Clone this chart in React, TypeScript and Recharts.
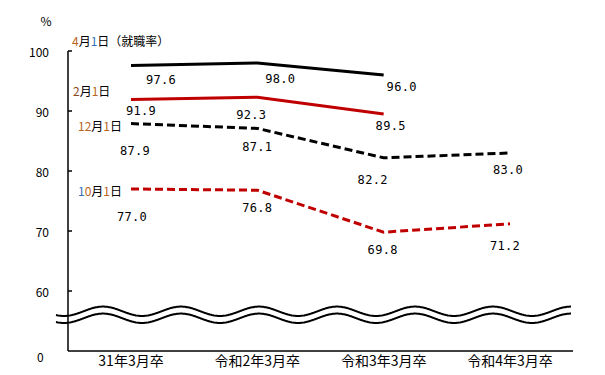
import React from 'react';
import { LineChart, Line, XAxis, YAxis, ReferenceArea, LabelList } from 'recharts';

const categories = ['31年3月卒', '令和2年3月卒', '令和3年3月卒', '令和4年3月卒'];
const apr = [97.6, 98.0, 96.0, null];
const feb = [91.9, 92.3, 89.5, null];
const dec = [87.9, 87.1, 82.2, 83.0];
const oct = [77.0, 76.8, 69.8, 71.2];
const yTicks = [50, 60, 70, 80, 90, 100];

const data = categories.map((name, i) => ({ name, apr: apr[i], feb: feb[i], dec: dec[i], oct: oct[i] }));

const FONT = '"Noto Sans CJK JP", "Noto Sans", sans-serif';
const MONO = '"DejaVu Sans Mono", monospace';

// label offsets from each point (dx, dy)
const offsets: Record<string, [number, number][]> = {
  apr: [[30, 15], [23, 16], [18, 12]],
  feb: [[10, 11], [-6, 18], [7, 12]],
  dec: [[4, 27], [0, 19], [-11, 22], [-2, 17]],
  oct: [[1, 28], [0, 18], [-1, 18], [-5, 22]],
};

// series name labels: text parts with colors, left x, offset y from first point
const names: Record<string, { parts: [string, string][]; x: number; dy: number }> = {
  apr: { parts: [['4', '#b8651e'], ['月', '#000'], ['1', '#2f6fb5'], ['日（就職率）', '#000']], x: 72, dy: -25 },
  feb: { parts: [['2', '#8a4a18'], ['月', '#000'], ['1', '#b8651e'], ['日', '#000']], x: 73, dy: -10 },
  dec: { parts: [['12', '#b8651e'], ['月', '#000'], ['1', '#b8651e'], ['日', '#000']], x: 78, dy: 1 },
  oct: { parts: [['1', '#2f6fb5'], ['0', '#b8651e'], ['月', '#000'], ['1', '#b8651e'], ['日', '#000']], x: 78, dy: 1 },
};

const makeLabel = (key: string) => (props: any) => {
  const { x, y, value, index } = props;
  if (value == null) return null;
  const [dx, dy] = offsets[key][index] || [0, 15];
  const nm = names[key];
  return (
    <g>
      <text x={x + dx} y={y + dy} textAnchor="middle" dominantBaseline="central" fontFamily={MONO} fontSize={12} letterSpacing={0.3} fill="#000">
        {Number(value).toFixed(1)}
      </text>
      {index === 0 && (
        <text x={nm.x} y={y + nm.dy} dominantBaseline="central" fontFamily={FONT} fontSize={12}>
          {nm.parts.map(([t, c], i) => (
            <tspan key={i} fill={c}>{t}</tspan>
          ))}
        </text>
      )}
    </g>
  );
};

const YTick = (props: any) => {
  const { x, y, payload } = props;
  const ax = x + 19;
  const v = payload.value;
  if (v === 50) {
    return (
      <text x={x - 12} y={y + 5} textAnchor="start" dominantBaseline="central" fontFamily={FONT} fontSize={12} fill="#000">0</text>
    );
  }
  return (
    <g>
      <text x={x} y={y} textAnchor="end" dominantBaseline="central" fontFamily={FONT} fontSize={12} fill="#000">{v}</text>
      <line x1={ax} x2={ax + 4} y1={y} y2={y} stroke="#000" strokeWidth={1.5} />
      {v === 100 && (
        <text x={x - 3} y={y - 31} textAnchor="middle" dominantBaseline="central" fontFamily={FONT} fontSize={12} fill="#000">%</text>
      )}
    </g>
  );
};

// axis break mark (double wavy band)
const Wave = (props: any) => {
  const { x, y } = props;
  const x0 = x - 75;
  const x1 = 571;
  const mid = y + 5.9;
  const amp = 4.7;
  const period = 78;
  const peak = x - 28;
  const up: string[] = [];
  const low: string[] = [];
  for (let px = x0; px <= x1; px += 1) {
    const yy = mid - amp * Math.cos((2 * Math.PI * (px - peak)) / period);
    up.push(`${px},${yy.toFixed(2)}`);
    low.push(`${px},${(yy + 7).toFixed(2)}`);
  }
  const band = `M${up.join(' L')} L${low.slice().reverse().join(' L')} Z`;
  return (
    <g>
      <path d={band} fill="#fff" stroke="none" />
      <path d={`M${up.join(' L')}`} fill="none" stroke="#000" strokeWidth={2} />
      <path d={`M${low.join(' L')}`} fill="none" stroke="#000" strokeWidth={2} />
    </g>
  );
};

export default function App() {
  return (
    <div style={{ position: 'absolute', left: 0, top: 0, width: 605, height: 375, background: '#fff' }}>
      <LineChart width={605} height={375} data={data} margin={{ top: 51, right: 32, bottom: 0, left: 8 }}>
        <XAxis
          dataKey="name"
          height={24}
          tickSize={0}
          tickMargin={5}
          padding={{ left: 63, right: 63 }}
          axisLine={{ stroke: '#000', strokeWidth: 1.5 }}
          tick={{ fill: '#000', fontFamily: FONT, fontSize: 14 }}
          interval={0}
        />
        <YAxis
          width={60}
          type="number"
          domain={[50, 100]}
          ticks={yTicks}
          allowDataOverflow
          tickSize={0}
          tickMargin={19}
          tickLine={false}
          axisLine={{ stroke: '#000', strokeWidth: 1.5 }}
          tick={<YTick />}
        />
        <ReferenceArea y1={54.4} y2={57.6} ifOverflow="visible" shape={<Wave />} />
        <Line dataKey="apr" stroke="#000" strokeWidth={3} dot={false} isAnimationActive={false}>
          <LabelList dataKey="apr" content={makeLabel('apr')} />
        </Line>
        <Line dataKey="feb" stroke="#c00000" strokeWidth={3} dot={false} isAnimationActive={false}>
          <LabelList dataKey="feb" content={makeLabel('feb')} />
        </Line>
        <Line dataKey="dec" stroke="#000" strokeWidth={3} strokeDasharray="8 4" dot={false} isAnimationActive={false}>
          <LabelList dataKey="dec" content={makeLabel('dec')} />
        </Line>
        <Line dataKey="oct" stroke="#c00000" strokeWidth={3} strokeDasharray="8 4" dot={false} isAnimationActive={false}>
          <LabelList dataKey="oct" content={makeLabel('oct')} />
        </Line>
      </LineChart>
    </div>
  );
}
